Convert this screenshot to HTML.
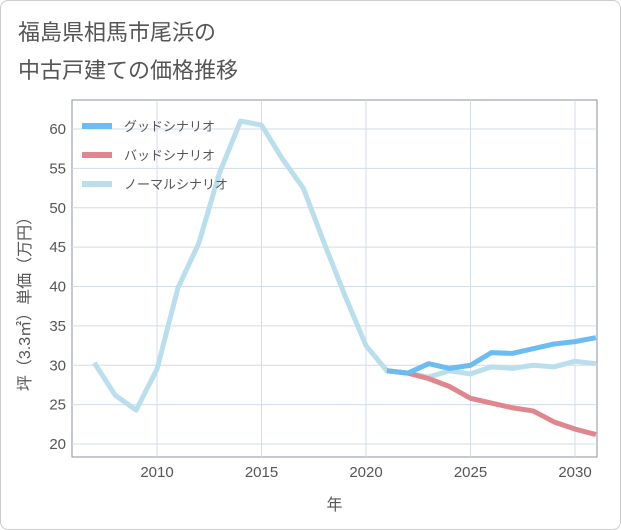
<!DOCTYPE html>
<html><head><meta charset="utf-8"><style>
body{margin:0;background:#fff;font-family:"Liberation Sans","Noto Sans CJK JP",sans-serif}
#wrap{position:relative;width:619px;height:528px;border:1px solid #ccc;border-radius:8px;overflow:hidden}
</style></head><body>
<div id="wrap">
<svg id="chart" width="621" height="530" style="position:absolute;left:-1px;top:-1px">
<text x="18" y="40" font-size="22" fill="#555">福島県相馬市尾浜の</text>
<text x="18" y="78" font-size="22" fill="#555">中古戸建ての価格推移</text>
<g id="plot"></g>
</svg>
</div>
<script>
const years=[2007,2008,2009,2010,2011,2012,2013,2014,2015,2016,2017,2018,2019,2020,2021,2022,2023,2024,2025,2026,2027,2028,2029,2030,2031];
const normal=[30.3,26.2,24.3,29.5,39.8,45.5,54.5,61.0,60.5,56.2,52.5,45.5,38.8,32.5,29.3,29.0,28.5,29.3,28.9,29.8,29.6,30.0,29.8,30.5,30.2];
const futureYears=[2021,2022,2023,2024,2025,2026,2027,2028,2029,2030,2031];
const good=[29.3,29.0,30.2,29.6,30.0,31.6,31.5,32.1,32.7,33.0,33.5];
const bad=[29.3,29.0,28.3,27.3,25.8,25.2,24.6,24.2,22.8,21.9,21.2];
const xTicks=[2010,2015,2020,2025,2030];
const yTicks=[20,25,30,35,40,45,50,55,60];
const legendLabels=["グッドシナリオ","バッドシナリオ","ノーマルシナリオ"];
const colors=["#6bbcf2","#e0868e","#b9dfec"];
const L=72,R=597,T=100,B=457;
const X=y=>157+(y-2010)*20.9;
const Y=v=>444-(v-20)*7.875;
const ns="http://www.w3.org/2000/svg";
const g=document.getElementById('plot');
function mk(t,a){const e=document.createElementNS(ns,t);for(const k in a)e.setAttribute(k,a[k]);g.appendChild(e);return e;}
const bg=mk('rect',{x:L,y:T,width:R-L,height:B-T,fill:'#fff',stroke:'#8a93a3','stroke-width':1});


xTicks.forEach(t=>{
 const l=mk('line',{x1:X(t),x2:X(t),y1:T,y2:B,stroke:'#d3dce8'});
 
 
 const tx=mk('text',{x:X(t),y:B+20,'text-anchor':'middle','font-size':15,fill:'#555'});tx.textContent=t;
 
 
});
yTicks.forEach(t=>{
 const l=mk('line',{x1:L,x2:R,y1:Y(t),y2:Y(t),stroke:'#d3dce8'});
 
 
 const tx=mk('text',{x:L-6,y:Y(t)+5,'text-anchor':'end','font-size':15,fill:'#555'});tx.textContent=t;
 
 
});
const defs=mk('defs',{});const cp=document.createElementNS(ns,'clipPath');cp.setAttribute('id','clip');defs.appendChild(cp);
const cr=document.createElementNS(ns,'rect');cr.setAttribute('x',L);cr.setAttribute('y',T);cr.setAttribute('width',R-L);cr.setAttribute('height',B-T);cp.appendChild(cr);
function line(xs,vs,c,name){
 const p=mk('polyline',{points:xs.map((x,i)=>X(x)+','+Y(vs[i])).join(' '),fill:'none',stroke:c,'stroke-width':5,'stroke-linejoin':'round','clip-path':'url(#clip)'});
 
 
}
line(years,normal,colors[2],'normal-scenario-line');
line(futureYears,bad,colors[1],'bad-scenario-line');
line(futureYears,good,colors[0],'good-scenario-line');
legendLabels.forEach((s,i)=>{
 const y=126+i*29;
 const l=mk('line',{x1:82,x2:112,y1:y,y2:y,stroke:colors[i],'stroke-width':6});
 
 
 const t=mk('text',{x:124,y:y+5,'font-size':13,fill:'#555'});t.textContent=s;
 
 
});
const xt=mk('text',{x:(L+R)/2,y:510,'text-anchor':'middle','font-size':16,fill:'#555'});xt.textContent='年';


const yt=mk('text',{x:0,y:0,'text-anchor':'middle','font-size':16,fill:'#555',transform:`translate(30,300) rotate(-90)`});yt.textContent='坪（3.3㎡）単価（万円）';


</script>
</body></html>
